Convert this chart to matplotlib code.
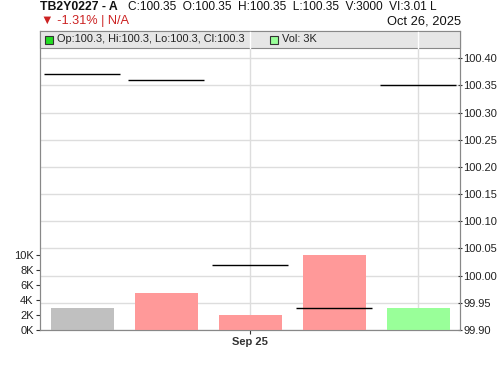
import matplotlib
matplotlib.use("Agg")
import matplotlib.pyplot as plt
from matplotlib.patches import Rectangle
from matplotlib import transforms

plt.rcParams['font.family'] = ['Liberation Sans', 'DejaVu Sans']

# ---- data ----
dates = ["Sep 23", "Sep 24", "Sep 25", "Sep 26", "Sep 29"]
price = [100.37, 100.36, 100.02, 99.94, 100.35]
volume = [3000, 5000, 2000, 10000, 3000]
vol_colors = ["#c0c0c0", "#ff9999", "#ff9999", "#ff9999", "#99ff99"]
price_ticks = [99.90, 99.95, 100.00, 100.05, 100.10, 100.15, 100.20, 100.25, 100.30, 100.35, 100.40]
vol_ticks = [0, 2000, 4000, 6000, 8000, 10000]
vol_ticklabels = ["0K", "2K", "4K", "6K", "8K", "10K"]
xtick_idx = [2]
xtick_labels = ["Sep 25"]
vgrid_idx = [2, 4]

W, H = 500, 366
fig = plt.figure(figsize=(W / 100, H / 100), dpi=100)
L, R, T, B = 40, 460, 31, 330
pos = [L / W, 1 - B / H, (R - L) / W, (B - T) / H]

axv = fig.add_axes(pos)   # volume (left)
axp = axv.twinx()         # price (right)

n = len(dates)
x = list(range(n))
axv.set_xlim(-0.5, n - 0.5)
axv.bar(x, volume, width=0.75, color=vol_colors, zorder=3)
axv.set_ylim(0, 40000)
axv.set_yticks(vol_ticks)
axv.set_yticklabels(vol_ticklabels)

axp.set_ylim(99.90, 100.45)
axp.set_yticks(price_ticks)
axp.set_yticklabels([f"{v:.2f}" for v in price_ticks])
for i, p in enumerate(price):
    axp.hlines(p, i - 0.45, i + 0.45, color="black", lw=1.0, zorder=4)

# grids (drawn on the volume axes, below the bars)
blend = transforms.blended_transform_factory(axv.transAxes, axp.transData)
for v in price_ticks:
    axv.plot([0, 1], [v, v], transform=blend, color="#dddddd", lw=1, zorder=0)
for i in vgrid_idx:
    axv.axvline(i, color="#dddddd", lw=1, zorder=0)
axp.set_zorder(axv.get_zorder() + 1)
axp.patch.set_visible(False)

axv.set_xticks(xtick_idx)
axv.set_xticklabels(xtick_labels, fontweight="bold")

for ax in (axv, axp):
    for s in ax.spines.values():
        s.set_color("#888888")
    ax.tick_params(colors="#333333", labelsize=8, width=0.8)
axv.tick_params(axis="y", labelcolor="#222222", pad=1.5, length=3)
axp.tick_params(axis="y", labelcolor="#222222", pad=1, length=3, direction="inout")
axv.tick_params(axis="x", pad=2, labelsize=8, length=3)
axv.spines["top"].set_visible(False)

# legend band
band_h = 17
fig.patches.append(Rectangle((L / W, 1 - (T + band_h) / H), (R - L) / W, band_h / H,
                             transform=fig.transFigure, facecolor="#e6e6e6",
                             edgecolor="#888888", lw=0.8, zorder=5))
for i in vgrid_idx:
    xpx = L + (i + 0.5) * (R - L) / n
    fig.add_artist(plt.Line2D([xpx / W, xpx / W], [1 - (T + 0.5) / H, 1 - (T + band_h - 0.5) / H],
                              transform=fig.transFigure, color="#ffffff", lw=1, zorder=6))
sq = 8
fig.patches.append(Rectangle((45 / W, 1 - 44 / H), sq / W, sq / H, transform=fig.transFigure,
                             facecolor="#22dd22", edgecolor="#333333", lw=0.8, zorder=7))
fig.text(57 / W, 1 - 39.5 / H, "Op:100.3, Hi:100.3, Lo:100.3, Cl:100.3", fontsize=7.9,
         va="center", ha="left", color="#222222", zorder=7)
fig.patches.append(Rectangle((270 / W, 1 - 44 / H), sq / W, sq / H, transform=fig.transFigure,
                             facecolor="#99ff99", edgecolor="#333333", lw=0.8, zorder=7))
fig.text(282 / W, 1 - 39.5 / H, "Vol: 3K", fontsize=7.9, va="center", ha="left",
         color="#222222", zorder=7)

# header
fig.text(40 / W, 1 - 7 / H, "TB2Y0227 - A", fontsize=8.8, fontweight="bold",
         va="center", ha="left", color="#111111")
fig.text(128 / W, 1 - 7 / H, "C:100.35  O:100.35  H:100.35  L:100.35  V:3000  VI:3.01 L",
         fontsize=8.6, va="center", ha="left", color="#111111")
fig.text(41 / W, 1 - 21 / H, "▼ -1.31% | N/A", fontsize=9.2, va="center", ha="left",
         color="#cc2222", family=["Liberation Sans", "DejaVu Sans"])
fig.text(461 / W, 1 - 21 / H, "Oct 26, 2025", fontsize=9.3, va="center", ha="right",
         color="#111111")

fig.savefig("out.png", dpi=100)
